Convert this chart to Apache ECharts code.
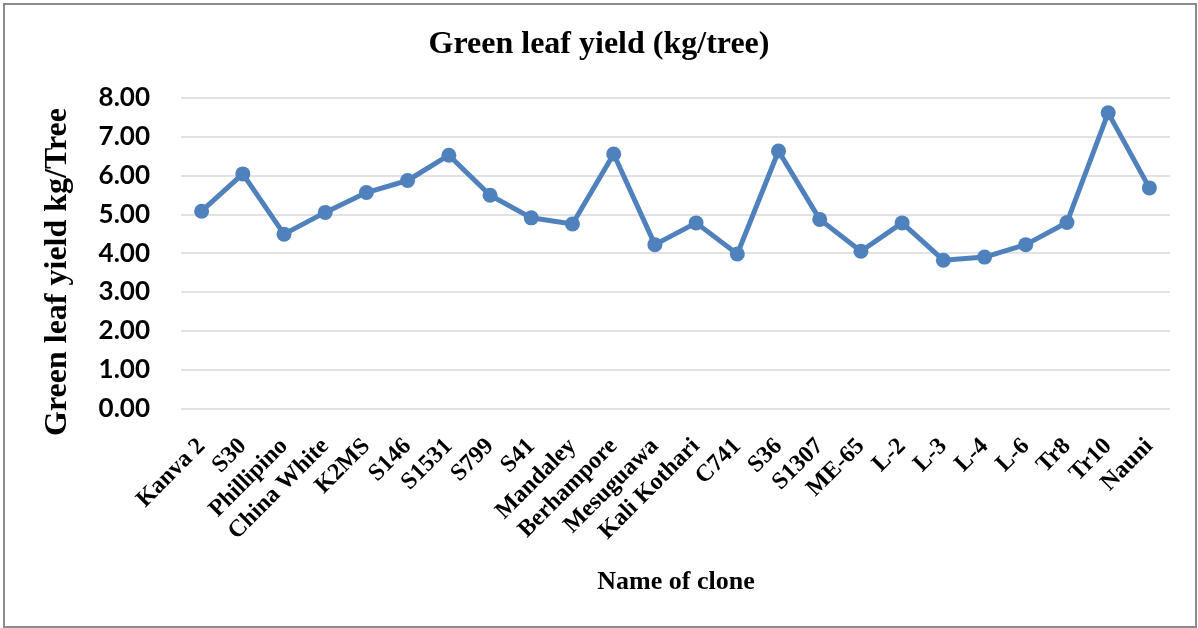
<!DOCTYPE html>
<html>
<head>
<meta charset="utf-8">
<title>Green leaf yield (kg/tree)</title>
<script src="https://cdn.jsdelivr.net/npm/echarts@6/dist/echarts.min.js"></script>
<style>
  html, body { margin: 0; padding: 0; background: #ffffff; }
  #chart { width: 1198px; height: 628px; }
</style>
</head>
<body>
<div id="chart"></div>
<script>
// Clone names along the category axis
const clones = [
  'Kanva 2', 'S30', 'Phillipino', 'China White', 'K2MS', 'S146', 'S1531', 'S799',
  'S41', 'Mandaley', 'Berhampore', 'Mesuguawa', 'Kali Kothari', 'C741', 'S36',
  'S1307', 'ME-65', 'L-2', 'L-3', 'L-4', 'L-6', 'Tr8', 'Tr10', 'Nauni'
];

// Green leaf yield per tree (kg)
const yieldKg = [
  5.08, 6.04, 4.49, 5.05, 5.56, 5.87, 6.52, 5.49,
  4.91, 4.75, 6.55, 4.22, 4.78, 3.98, 6.63,
  4.87, 4.05, 4.78, 3.82, 3.90, 4.22, 4.79, 7.61, 5.68
];

// Value axis ticks
const yTicks = { min: 0, max: 8, step: 1 };

const titleText = 'Green leaf yield (kg/tree)';
const xAxisTitle = 'Name of clone';
const yAxisTitle = 'Green leaf yield kg/Tree';

const serif = '"Liberation Serif", "Times New Roman", serif';
const sans = 'Lato, "Liberation Sans", sans-serif';

const chart = echarts.init(document.getElementById('chart'), null, { renderer: 'canvas' });

chart.setOption({
  backgroundColor: '#ffffff',
  animation: false,
  title: {
    text: titleText,
    left: 'center',
    top: 29,
    padding: 0,
    textStyle: { fontFamily: serif, fontWeight: 'bold', fontSize: 32, color: '#000000' }
  },
  grid: { left: 181, right: 28, top: 97.7, bottom: 219.3 },
  xAxis: {
    type: 'category',
    data: clones,
    boundaryGap: true,
    axisLine: { show: false },
    axisTick: { show: false },
    axisLabel: {
      interval: 0,
      rotate: 45,
      margin: 34,
      fontFamily: serif,
      fontWeight: 'bold',
      fontSize: 24,
      color: '#000000'
    },
    splitLine: { show: false }
  },
  yAxis: {
    type: 'value',
    min: yTicks.min,
    max: yTicks.max,
    interval: yTicks.step,
    axisLine: { show: false },
    axisTick: { show: false },
    axisLabel: {
      margin: 31,
      fontFamily: sans,
      fontWeight: 'bold',
      fontSize: 26,
      color: '#000000',
      formatter: v => v.toFixed(2)
    },
    splitLine: { show: true, lineStyle: { color: '#d9d9d9', width: 1.5 } }
  },
  series: [{
    type: 'line',
    data: yieldKg,
    symbol: 'circle',
    symbolSize: 15,
    lineStyle: { color: '#4f81bd', width: 5 },
    itemStyle: { color: '#4f81bd' },
    z: 3
  }],
  graphic: [
    {
      type: 'rect',
      silent: true,
      shape: { x: 4, y: 4, width: 1192, height: 623 },
      style: { fill: 'none', stroke: '#8c8c8c', lineWidth: 2 }
    },
    {
      type: 'text',
      silent: true,
      x: 58,
      y: 272,
      rotation: Math.PI / 2,
      style: {
        text: yAxisTitle,
        font: 'bold 32px ' + serif,
        fill: '#000000',
        textAlign: 'center',
        textVerticalAlign: 'middle',
        verticalAlign: 'middle'
      }
    },
    {
      type: 'text',
      silent: true,
      x: 676,
      y: 582,
      style: {
        text: xAxisTitle,
        font: 'bold 26px ' + serif,
        fill: '#000000',
        textAlign: 'center',
        textVerticalAlign: 'middle',
        verticalAlign: 'middle'
      }
    }
  ]
});
</script>
</body>
</html>
